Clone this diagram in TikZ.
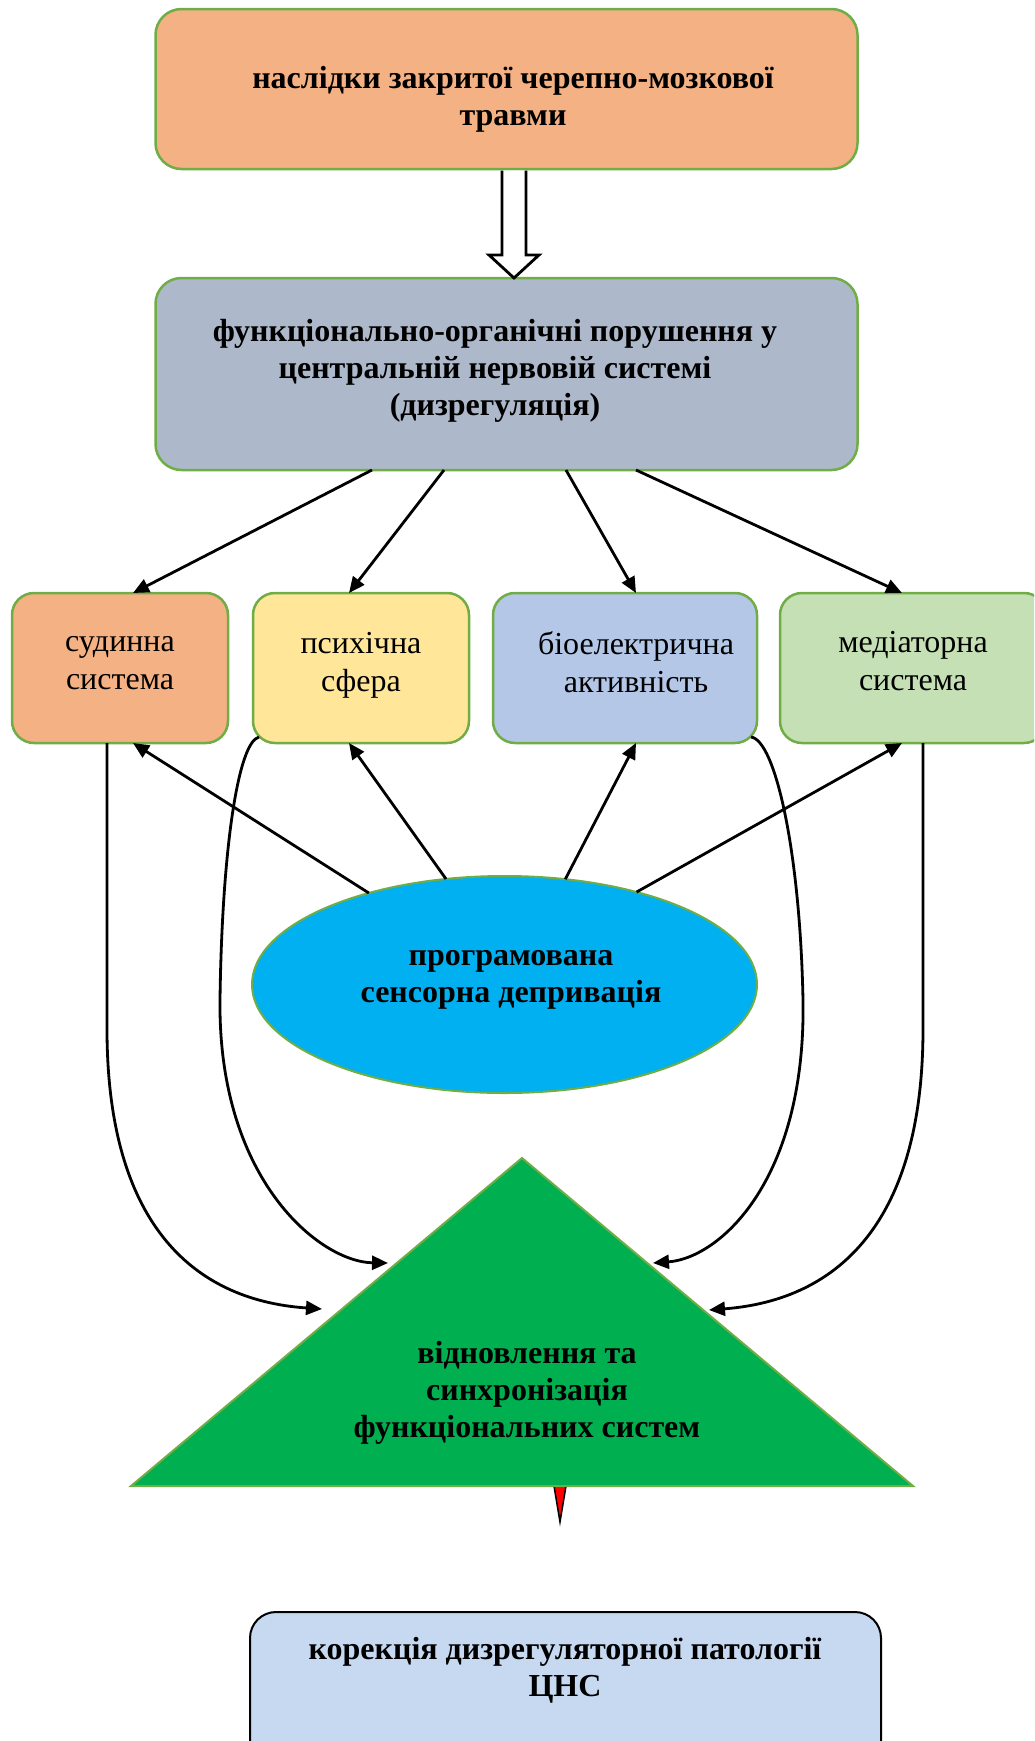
\documentclass[tikz,border=0pt]{standalone}
\usepackage{fontspec}
\setmainfont{Liberation Serif}
\usetikzlibrary{arrows.meta,shapes.geometric,calc}
\definecolor{cOrange}{HTML}{F4B183}
\definecolor{cGrayBlue}{HTML}{ADB9CA}
\definecolor{cYellow}{HTML}{FFE699}
\definecolor{cBlue}{HTML}{B4C7E7}
\definecolor{cGreenL}{HTML}{C5E0B4}
\definecolor{cBorder}{HTML}{70AD47}
\definecolor{cCyan}{HTML}{00B0F0}
\definecolor{cGreen}{HTML}{00B050}
\definecolor{cBottom}{HTML}{C6D9F1}
\begin{document}
\begin{tikzpicture}[x=1pt,y=-1pt,
  box/.style={draw=cBorder, line width=2.5pt, rounded corners=26pt, inner sep=0pt, outer sep=0pt},
  sbox/.style={box, rounded corners=22pt, minimum height=150pt},
  lblB/.style={font=\fontsize{32}{37}\selectfont\bfseries, align=center, inner sep=0pt},
  lblR/.style={font=\fontsize{32}{38}\selectfont, align=center, inner sep=0pt},
  conn/.style={line width=2.8pt, -{Triangle[length=16pt,width=14pt]}},
]
\path[use as bounding box] (0,0) rectangle (1034,1741);
\clip (0,0) rectangle (1034,1741);

% top boxes
\node[box, fill=cOrange, minimum width=702pt, minimum height=160pt] (top) at (506.5,89) {};
\node[lblB] (topT) at (513,99) {наслідки закритої черепно-мозкової\\травми};
\node[box, fill=cGrayBlue, minimum width=702pt, minimum height=192pt] (mid) at (506.5,374) {};
\node[lblB] (midT) at (495,371) {функціонально-органічні порушення у\\центральній нервовій системі\\(дизрегуляція)};

% hollow arrow
\draw[line width=2.8pt, fill=white] ($(top.south)+(-4.5,1.5)$) -- ++(0,84.5) -- ++(-13,0) -- ++(25,23) -- ++(25,-23) -- ++(-13,0) -- ++(0,-84.5);

% four boxes
\node[sbox, fill=cOrange, minimum width=216pt] (b1) at (120,668) {};
\node[lblR] (b1T) at (120,663) {судинна\\система};
\node[sbox, fill=cYellow, minimum width=216pt] (b2) at (361,668) {};
\node[lblR] (b2T) at (361,665) {психічна\\сфера};
\node[sbox, fill=cBlue, minimum width=264pt] (b3) at (625,668) {};
\node[lblR] (b3T) at (636,662) {біоелектрична\\активність};
\node[sbox, fill=cGreenL, minimum width=266pt] (b4) at (913,668) {};
\node[lblR] (b4T) at (913,661) {медіаторна\\система};

% ellipse
\node[ellipse, draw=cBorder, line width=2pt, fill=cCyan, minimum width=505pt, minimum height=217pt, inner sep=0pt, outer sep=0pt] (ell) at (504.5,984.5) {};
\node[lblB] (ellT) at (511,980) {програмована\\сенсорна депривація};

% red arrow tip and triangle
\coordinate (apex) at (522,1158);
\coordinate (bl) at (131,1486);
\coordinate (br) at (913,1486);
\coordinate (rtip) at (560,1522);
\draw[fill=red, line width=1.5pt] (553,1480) -- (rtip) -- (567,1480) -- cycle;
\draw[draw=cBorder, line width=2pt, fill=cGreen] (apex) -- (bl) -- (br) -- cycle;
\node[lblB] (triT) at (527,1393) {відновлення та\\синхронізація\\функціональних систем};

% bottom box
\node[draw=black, line width=2pt, rounded corners=26pt, fill=cBottom, minimum width=631pt, minimum height=160pt, inner sep=0pt, outer sep=0pt] (bot) at (565.5,1692) {};
\node[lblB] (botT) at (565,1670) {корекція дизрегуляторної патології\\ЦНС};

% arrows from mid box
\draw[conn] ([xshift=-134.5pt]mid.south) -- ([xshift=13pt]b1.north);
\draw[conn] ([xshift=-62.5pt]mid.south) -- ([xshift=-12pt]b2.north);
\draw[conn] ([xshift=59.5pt]mid.south) -- ([xshift=11pt]b3.north);
\draw[conn] ([xshift=129.5pt]mid.south) -- ([xshift=-11pt]b4.north);

% arrows from ellipse
\draw[conn] (ell.146.8) -- ([xshift=13pt]b1.south);
\draw[conn] (ell.119.4) -- ([xshift=-12pt]b2.south);
\draw[conn] (ell.60.9) -- ([xshift=11pt]b3.south);
\draw[conn] (ell.35.1) -- ([xshift=-11pt]b4.south);

% curved arrows into triangle
\coordinate (t1) at (322,1309);
\coordinate (t2) at (388,1263);
\coordinate (t3) at (653,1263);
\coordinate (t4) at (709,1310);
\draw[conn] ([xshift=-13pt]b1.south) -- ++(0,286) .. controls (107,1220) and (190,1300) .. (t1);
\draw[conn] ($(b2.south west)+(6,-6)$) .. controls (238,742) and (222,850) .. (220,1000) .. controls (218,1180) and (320,1262) .. (t2);
\draw[conn] ($(b3.south east)+(-6,-6)$) .. controls (775,740) and (800,850) .. (803,1000) .. controls (806,1180) and (720,1258) .. (t3);
\draw[conn] ([xshift=10pt]b4.south) -- ++(0,286) .. controls (923,1220) and (840,1300) .. (t4);
\end{tikzpicture}
\end{document}
